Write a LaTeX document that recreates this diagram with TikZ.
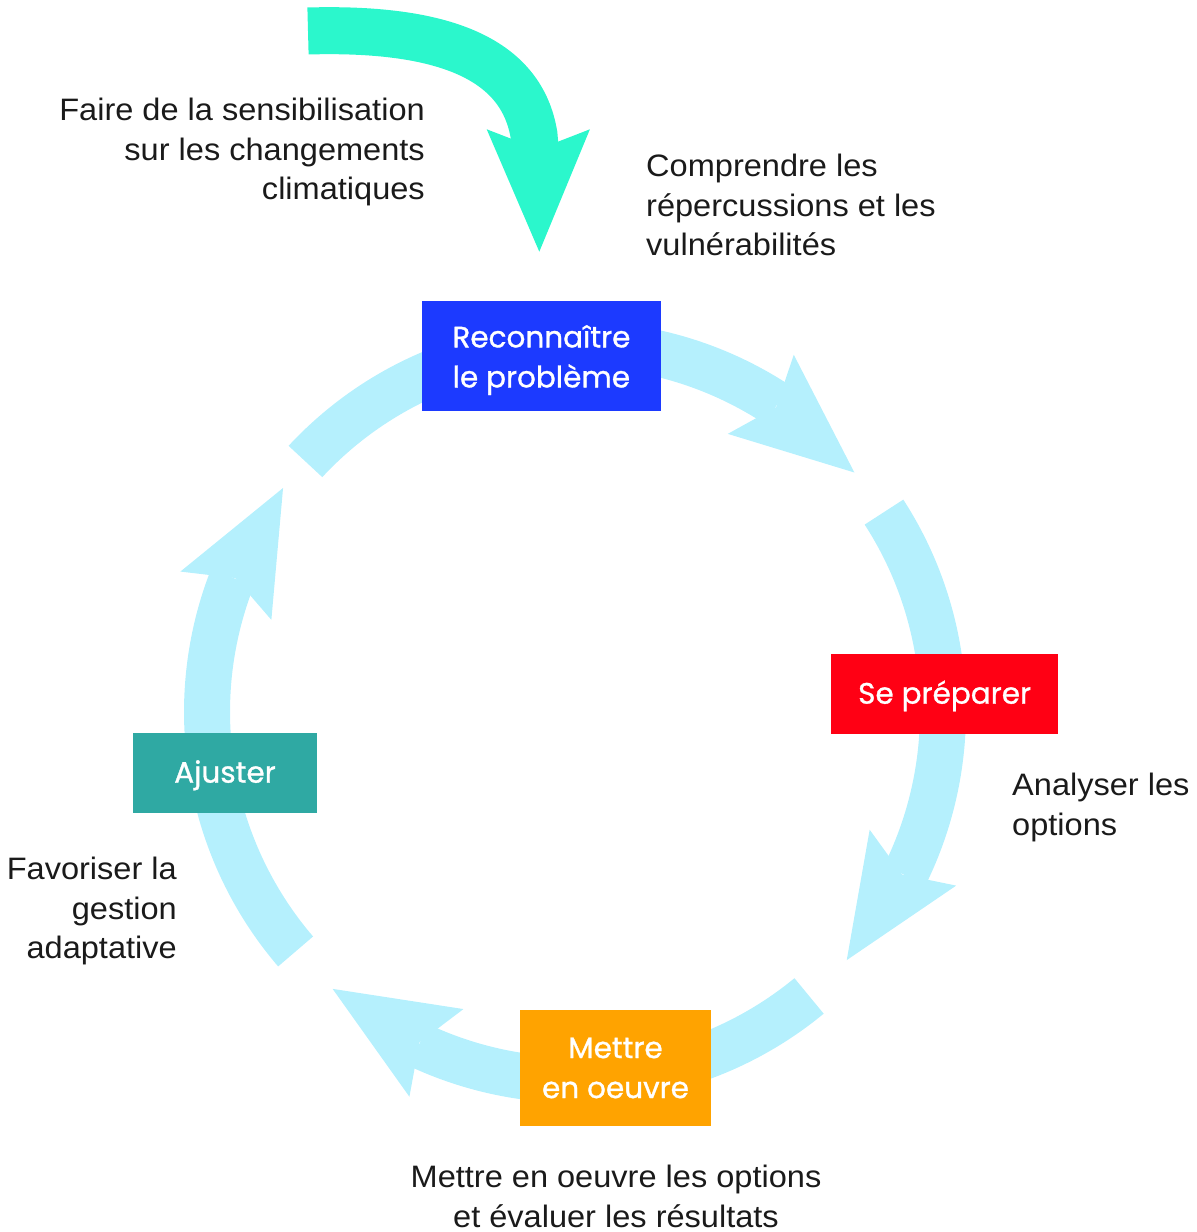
\documentclass[tikz,border=0pt]{standalone}
\usepackage{fontspec}
\setmainfont{Liberation Sans}[FakeStretch=1.05]
\newfontfamily\stagefont{Poppins}[FakeBold=1.0]
\usetikzlibrary{calc}

\definecolor{ringcol}{RGB}{181,240,253}
\definecolor{awaregreen}{RGB}{43,247,204}
\definecolor{stepblue}{RGB}{28,58,255}
\definecolor{stepred}{RGB}{255,0,20}
\definecolor{steporange}{RGB}{255,163,0}
\definecolor{stepteal}{RGB}{47,169,163}
\definecolor{notetext}{RGB}{26,26,26}

% One segment of the cycle ring: #1 = tail angle, #2 = tip angle (clockwise)
\newcommand\cyclearrow[2]{%
  \pgfmathsetmacro\headang{#2+19.08}%
  \pgfmathsetmacro\shaftend{\headang-3}%
  \fill[ringcol] ($(ctr)+(#1:391)$)
      arc[start angle=#1, end angle=\shaftend, radius=391]
      -- ($(ctr)+(\shaftend:345)$)
      arc[start angle=\shaftend, end angle=#1, radius=345] -- cycle;
  \coordinate (hb) at ($(ctr)+(\headang:368)$);
  \coordinate (tp) at ($(ctr)+(#2:368)$);
  \fill[ringcol] (tp) -- ($(hb)!51.5pt!90:(tp)$) -- ($(hb)!20pt!(tp)$)
      -- ($(hb)!51.5pt!-90:(tp)$) -- cycle;
}
% invisible strut that lowers a label inside its box
\newcommand\stagelift[1]{\rule{0pt}{#1}}

\begin{document}
\begin{tikzpicture}[x=1pt,y=1pt,
  stage/.style={fill=#1, text=white, inner sep=0pt, align=center,
    font=\stagefont\fontsize{29.5}{40}\selectfont},
  note/.style={text=notetext, inner sep=0pt,
    font=\fontsize{31}{39.5}\selectfont},
]
\useasboundingbox (0,0) rectangle (1197,1232);

% ring of four arrows
\coordinate (ctr) at (575,520);
\cyclearrow{137.1}{40.6}
\cyclearrow{32.9}{-42.4}
\cyclearrow{-50.5}{-131.2}
\cyclearrow{-139.4}{-217.5}

% entry arrow
\coordinate (entry) at (308,1201);
\coordinate (entryend) at (536,1074);
\coordinate (entrytip) at (539.3,980.3);
\coordinate (entrybase) at (538.3,1102.7);
\draw[awaregreen, line width=47pt]
  (entry) .. controls (450,1205) and (522,1170) .. (534,1097) -- (entryend);
\fill[awaregreen] (entrytip) -- ($(entrybase)+(51.6,0)$)
  -- ($(entrybase)!20pt!(entrytip)$) -- ($(entrybase)+(-51.6,0)$) -- cycle;

% stages
\node[stage=stepblue, minimum width=239.3, minimum height=110]
  (recognise) at (541.4,876.3) {\stagelift{31pt}Reconnaître\\le problème};
\node[stage=stepred, minimum width=227.3, minimum height=80]
  (prepare) at (944.6,538) {\stagelift{27pt}Se préparer};
\node[stage=steporange, minimum width=191, minimum height=116]
  (implement) at (615.5,164) {Mettre\\en oeuvre};
\node[stage=stepteal, minimum width=184.6, minimum height=79.4]
  (adjust) at (225,459) {\stagelift{27pt}Ajuster};

% descriptions
\node[note, align=right, anchor=north east] (aware) at (425,1134)
  {Faire de la sensibilisation\\sur les changements\\climatiques};
\node[note, align=left, anchor=north west] (understand) at (646,1078)
  {Comprendre les\\répercussions et les\\vulnérabilités};
\node[note, align=left, anchor=north west] (analyse) at (1012,459)
  {Analyser les\\options};
\node[note, align=center, anchor=north] (evaluate) at (616,67)
  {Mettre en oeuvre les options\\et évaluer les résultats};
\node[note, align=right, anchor=north east] (manage) at (177,375)
  {Favoriser la\\gestion\\adaptative};
\end{tikzpicture}
\end{document}
